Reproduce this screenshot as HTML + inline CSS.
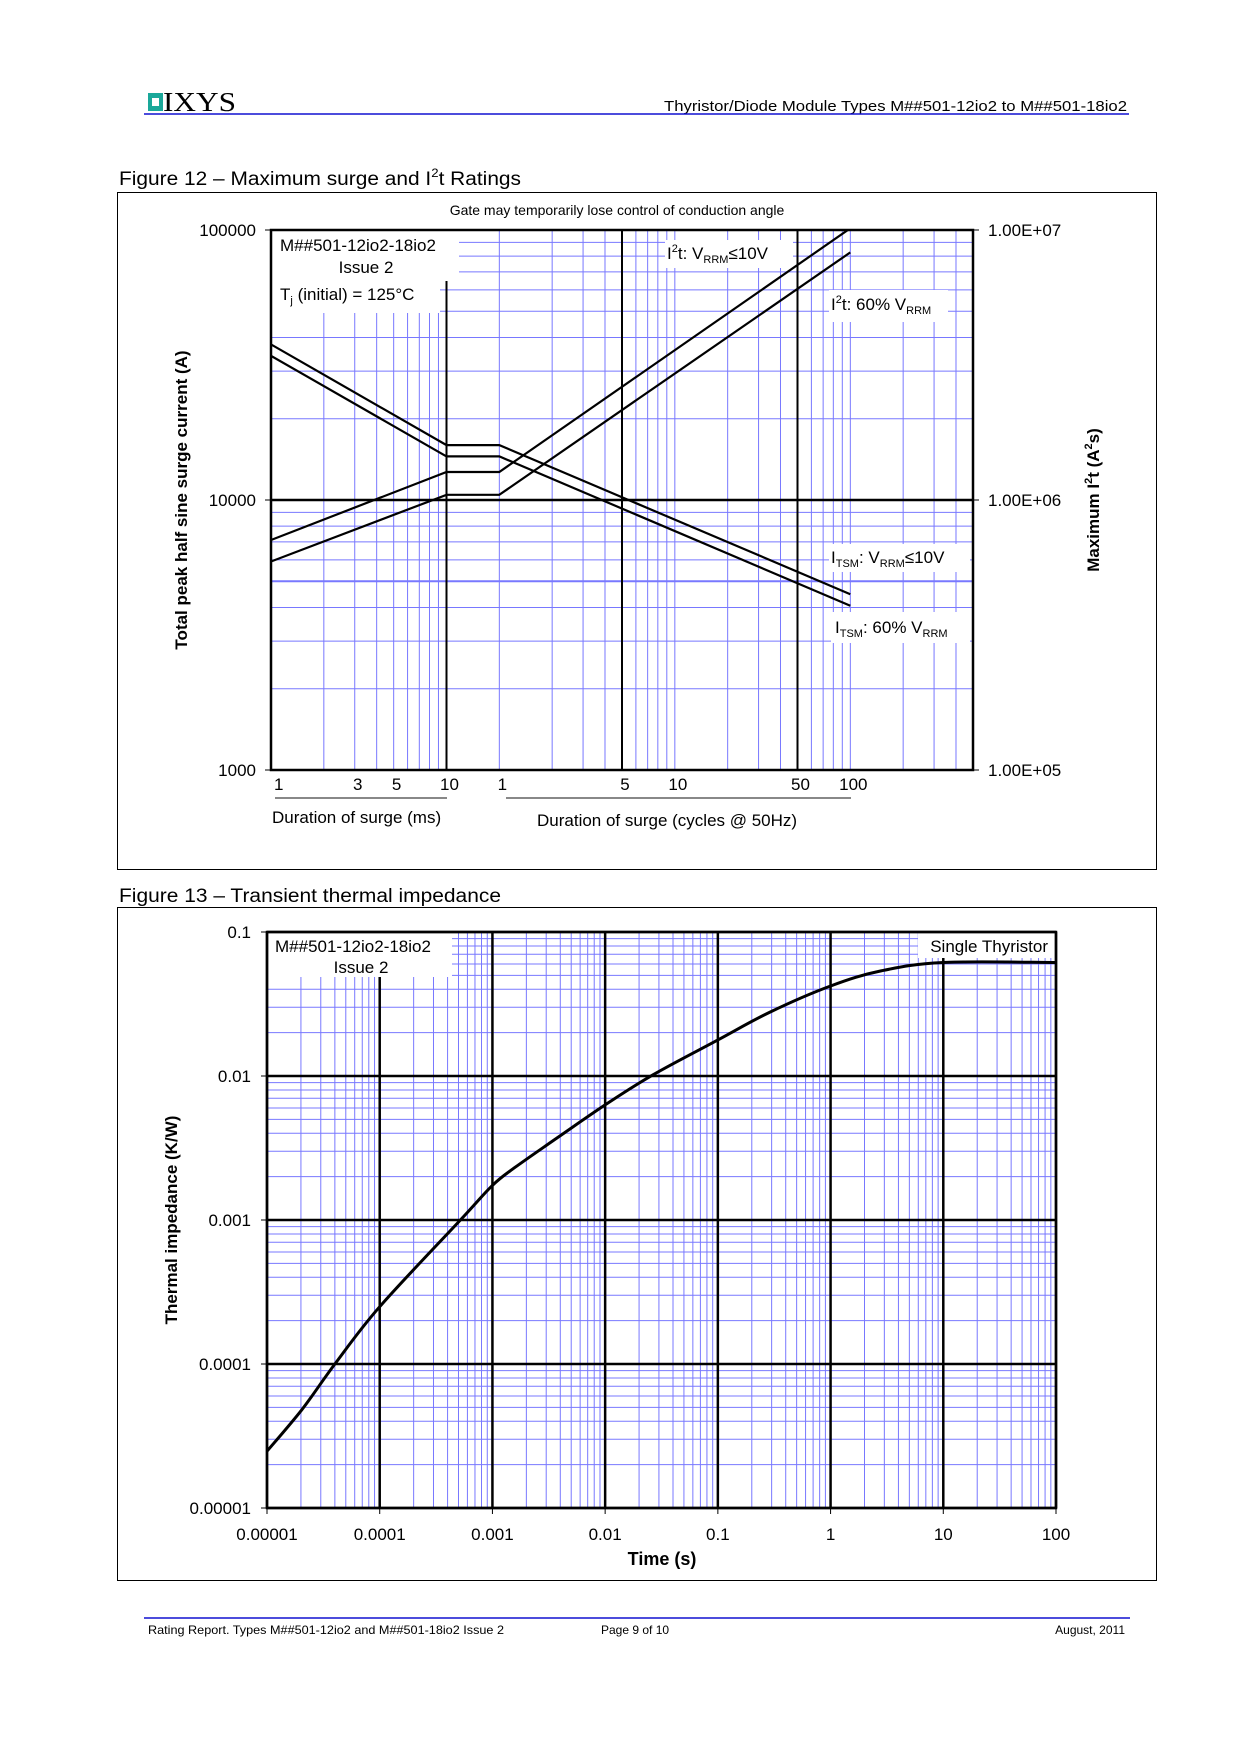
<!DOCTYPE html>
<html><head><meta charset="utf-8"><style>
html,body{margin:0;padding:0;background:#fff}
svg{display:block}
text{font-family:"Liberation Sans",sans-serif;fill:#000}
</style></head><body>
<svg id="pg" width="1240" height="1754" viewBox="0 0 1240 1754" xmlns="http://www.w3.org/2000/svg">
<rect x="0" y="0" width="1240" height="1754" fill="#fff"/>
<g>
 <rect x="148" y="93" width="15" height="18" fill="#1aa89a"/>
 <rect x="152" y="98" width="7" height="8" fill="#fff"/>
 <text x="163" y="111" font-family="Liberation Serif" style="font-family:'Liberation Serif',serif" font-size="27" textLength="73" lengthAdjust="spacingAndGlyphs">IXYS</text>
 <text x="1127" y="111" font-size="15" text-anchor="end" textLength="463" lengthAdjust="spacingAndGlyphs">Thyristor/Diode Module Types M##501-12io2 to M##501-18io2</text>
 <line x1="144" y1="114" x2="1129" y2="114" stroke="#1010d0" stroke-width="1.5"/>
</g>
<text x="119" y="185" font-size="19" textLength="402" lengthAdjust="spacingAndGlyphs">Figure 12 – Maximum surge and I<tspan font-size="12" dy="-8">2</tspan><tspan dy="8">t Ratings</tspan></text>
<rect x="117.5" y="192.5" width="1039" height="677" fill="none" stroke="#000" stroke-width="1"/>
<g id="fig12"></g>
<text x="119" y="902" font-size="19" textLength="382" lengthAdjust="spacingAndGlyphs">Figure 13 – Transient thermal impedance</text>
<rect x="117.5" y="907.5" width="1039" height="673" fill="none" stroke="#000" stroke-width="1"/>
<g id="fig13"></g>
<g>
 <line x1="144" y1="1618" x2="1130" y2="1618" stroke="#1010d0" stroke-width="1.5"/>
 <text x="148" y="1634" font-size="12" textLength="356" lengthAdjust="spacingAndGlyphs">Rating Report. Types M##501-12io2 and M##501-18io2 Issue 2</text>
 <text x="601" y="1634" font-size="12">Page 9 of 10</text>
 <text x="1125" y="1634" font-size="12" text-anchor="end">August, 2011</text>
</g>
</svg>
<script>
// ---- Figure 12 data ----
const surgeMs = [1, 10, 20, 2000];
const itsmLowV = [37700, 15970, 15970, 4477];
const itsm60V = [34200, 14500, 14500, 4060];
const i2tLowV = [711000, 1270000, 1270000, 10150000];
const i2t60V = [592000, 1045000, 1045000, 8260000];
const surgeTickMs = [1, 3, 5, 10, 20, 100, 200, 1000, 2000];
const surgeTickLabels = ['1', '3', '5', '10', '1', '5', '10', '50', '100'];
const leftTicks = [1000, 10000, 100000];
const leftTickLabels = ['1000', '10000', '100000'];
const rightTicks = [100000, 1000000, 10000000];
const rightTickLabels = ['1.00E+05', '1.00E+06', '1.00E+07'];
// ---- Figure 13 data ----
const zthT = [1e-5, 2.03e-5, 4e-5, 1e-4, 5.2e-4, 1e-3, 1.6e-3, 3.63e-3, 1e-2, 2.66e-2, 0.1, 0.29, 1, 2.8, 10, 100];
const zthZ = [2.48e-5, 4.8e-5, 1e-4, 2.5e-4, 1e-3, 1.74e-3, 2.33e-3, 3.65e-3, 6.3e-3, 1.02e-2, 1.78e-2, 2.78e-2, 4.22e-2, 5.37e-2, 6.14e-2, 6.14e-2];
const zTicks = [1e-5, 1e-4, 1e-3, 1e-2, 1e-1];
const zTickLabels = ['0.00001', '0.0001', '0.001', '0.01', '0.1'];
const tTicks = [1e-5, 1e-4, 1e-3, 1e-2, 1e-1, 1, 10, 100];
const tTickLabels = ['0.00001', '0.0001', '0.001', '0.01', '0.1', '1', '10', '100'];

const NS = 'http://www.w3.org/2000/svg';
function mk(parent, tag, attrs, name) {
  const el = document.createElementNS(NS, tag);
  for (const k in attrs) el.setAttribute(k, attrs[k]);
  
  
  parent.appendChild(el);
  return el;
}
function ln(p, x1, y1, x2, y2, c, w, name) {
  return mk(p, 'line', {x1: x1, y1: y1, x2: x2, y2: y2, stroke: c, 'stroke-width': w}, name);
}
function tx(p, x, y, s, size, anchor, name) {
  const t = mk(p, 'text', {x: x, y: y, 'font-size': size, 'text-anchor': anchor || 'start'}, name);
  t.textContent = s;
  return t;
}
const L = Math.log10;
const BLUE = '#7878ff';

// ===== Figure 12 =====
const g12 = document.getElementById('fig12');
const P1 = {l: 271, r: 973, t: 230, b: 770};
const x12 = ms => P1.l + L(ms) * 175.5;
const yL = v => P1.b - (L(v) - 3) * 270;
const yR = v => P1.b - (L(v) - 5) * 270;

const vgrid = [];
[2,3,4,5,6,7,8,9].forEach(m => vgrid.push(m));
[20,40,60,80,100,120,140,160,180,200,400,600,800,1000,1200,1400,1600,1800,2000,4000,6000,8000,10000].forEach(m => vgrid.push(m));
vgrid.forEach(m => ln(g12, x12(m), P1.t, x12(m), P1.b, BLUE, 1, 'surge-x-gridline'));
[2,3,4,5,6,7,8,9].forEach(m => {
  [1000, 10000].forEach(d => ln(g12, P1.l, yL(m*d), P1.r, yL(m*d), BLUE, 1, 'surge-y-gridline'));
});
ln(g12, P1.l, yL(5000), P1.r, yL(5000), BLUE, 2, 'surge-y-gridline');
[10, 100, 1000].forEach(m => ln(g12, x12(m), P1.t, x12(m), P1.b, '#000', 2, 'surge-major-x-gridline'));
ln(g12, P1.l, yL(10000), P1.r, yL(10000), '#000', 2.5, 'surge-major-y-gridline');

[[271,230,459,281],[271,281,440,313],[665,240,793,268],[829,290,948,322],[829,544,970,572],[831,612,970,643]].forEach(b => {
  mk(g12, 'rect', {x: b[0], y: b[1], width: b[2]-b[0], height: b[3]-b[1], fill: '#fff'}, 'label-background');
});
ln(g12, x12(10), 281, x12(10), P1.b, '#000', 2, 'surge-major-x-gridline');

const clip = mk(g12, 'clipPath', {id: 'c12'}, 'plot-clip');
mk(clip, 'rect', {x: P1.l, y: P1.t, width: P1.r - P1.l, height: P1.b - P1.t}, 'plot-clip-rect');
function series(vals, yf, name) {
  const pts = surgeMs.map((m, i) => x12(m).toFixed(1) + ',' + yf(vals[i]).toFixed(1)).join(' ');
  mk(g12, 'polyline', {points: pts, fill: 'none', stroke: '#000', 'stroke-width': 2.2, 'clip-path': 'url(#c12)'}, name);
}
series(itsmLowV, yL, 'itsm-vrrm-10v-line');
series(itsm60V, yL, 'itsm-60pct-vrrm-line');
series(i2tLowV, yR, 'i2t-vrrm-10v-line');
series(i2t60V, yR, 'i2t-60pct-vrrm-line');

mk(g12, 'rect', {x: P1.l, y: P1.t, width: P1.r - P1.l, height: P1.b - P1.t, fill: 'none', stroke: '#000', 'stroke-width': 2.5}, 'surge-plot-border');

leftTicks.forEach((v, i) => {
  ln(g12, P1.l - 6, yL(v), P1.l, yL(v), '#000', 1, 'left-y-tick');
  tx(g12, 256, yL(v) + 6, leftTickLabels[i], 17, 'end', 'left-y-tick-label');
});
rightTicks.forEach((v, i) => {
  ln(g12, P1.r, yR(v), P1.r + 6, yR(v), '#000', 1, 'right-y-tick');
  tx(g12, 988, yR(v) + 6, rightTickLabels[i], 17, 'start', 'right-y-tick-label');
});
surgeTickMs.forEach((m, i) => {
  tx(g12, x12(m) + 3, 790, surgeTickLabels[i], 17, i === 0 ? 'start' : 'middle', 'surge-x-tick-label');
});
ln(g12, 275, 798, 447, 798, '#888', 2, 'ms-axis-bracket');
ln(g12, 506, 798, 851, 798, '#888', 2, 'cycles-axis-bracket');
tx(g12, 272, 823, 'Duration of surge (ms)', 17, 'start', 'x-axis-title-ms');
tx(g12, 537, 826, 'Duration of surge (cycles @ 50Hz)', 17, 'start', 'x-axis-title-cycles');
tx(g12, 617, 215, 'Gate may temporarily lose control of conduction angle', 14, 'middle', 'gate-note');

let t;
t = tx(g12, 0, 0, 'Total peak half sine surge current (A)', 17, 'middle', 'left-y-axis-title');
t.setAttribute('transform', 'translate(187,500) rotate(-90)');
t.setAttribute('font-weight', 'bold');
t = tx(g12, 0, 0, '', 17, 'middle', 'right-y-axis-title');
t.setAttribute('transform', 'translate(1099,500) rotate(-90)');
t.setAttribute('font-weight', 'bold');
t.innerHTML = 'Maximum I<tspan font-size="11" dy="-7">2</tspan><tspan dy="7">t (A</tspan><tspan font-size="11" dy="-7">2</tspan><tspan dy="7">s)</tspan>';

tx(g12, 280, 251, 'M##501-12io2-18io2', 17, 'start', 'device-label');
tx(g12, 366, 273, 'Issue 2', 17, 'middle', 'issue-label');
t = tx(g12, 280, 300, '', 17, 'start', 'tj-label');
t.innerHTML = 'T<tspan font-size="11" dy="4">j</tspan><tspan dy="-4"> (initial) = 125°C</tspan>';
t = tx(g12, 667, 259, '', 17, 'start', 'i2t-vrrm-10v-label');
t.innerHTML = 'I<tspan font-size="11" dy="-7">2</tspan><tspan dy="7">t: V</tspan><tspan font-size="11" dy="4">RRM</tspan><tspan dy="-4">≤10V</tspan>';
t = tx(g12, 831, 310, '', 17, 'start', 'i2t-60pct-label');
t.innerHTML = 'I<tspan font-size="11" dy="-7">2</tspan><tspan dy="7">t: 60% V</tspan><tspan font-size="11" dy="4">RRM</tspan>';
t = tx(g12, 831, 563, '', 17, 'start', 'itsm-vrrm-10v-label');
t.innerHTML = 'I<tspan font-size="11" dy="4">TSM</tspan><tspan dy="-4">: V</tspan><tspan font-size="11" dy="4">RRM</tspan><tspan dy="-4">≤10V</tspan>';
t = tx(g12, 835, 633, '', 17, 'start', 'itsm-60pct-label');
t.innerHTML = 'I<tspan font-size="11" dy="4">TSM</tspan><tspan dy="-4">: 60% V</tspan><tspan font-size="11" dy="4">RRM</tspan>';

// ===== Figure 13 =====
const g13 = document.getElementById('fig13');
const P2 = {l: 267, r: 1056, t: 932, b: 1508};
const x13 = v => P2.l + (L(v) + 5) * (P2.r - P2.l) / 7;
const y13 = v => P2.b - (L(v) + 5) * (P2.b - P2.t) / 4;
for (let d = -5; d < 2; d++) for (let m = 2; m <= 9; m++) {
  const v = m * Math.pow(10, d);
  ln(g13, x13(v), P2.t, x13(v), P2.b, BLUE, 1, 'zth-x-gridline');
}
for (let d = -5; d < -1; d++) for (let m = 2; m <= 9; m++) {
  const v = m * Math.pow(10, d);
  ln(g13, P2.l, y13(v), P2.r, y13(v), BLUE, 1, 'zth-y-gridline');
}
mk(g13, 'rect', {x: 268, y: 933, width: 184, height: 44, fill: '#fff'}, 'label-background');
mk(g13, 'rect', {x: 918, y: 933, width: 137, height: 25, fill: '#fff'}, 'label-background');
tTicks.forEach(v => ln(g13, x13(v), v === 1e-4 ? 977 : (v === 10 ? 958 : P2.t), x13(v), P2.b, '#000', 2.5, 'zth-major-x-gridline'));
zTicks.forEach(v => ln(g13, P2.l, y13(v), P2.r, y13(v), '#000', 2.5, 'zth-major-y-gridline'));
mk(g13, 'rect', {x: P2.l, y: P2.t, width: P2.r - P2.l, height: P2.b - P2.t, fill: 'none', stroke: '#000', 'stroke-width': 2.5}, 'zth-plot-border');
// smooth curve (Catmull-Rom through data points)
const zp = zthT.map((v, i) => [x13(v), y13(zthZ[i])]);
let d = 'M' + zp[0][0].toFixed(1) + ',' + zp[0][1].toFixed(1);
for (let i = 0; i < zp.length - 1; i++) {
  const p0 = zp[Math.max(0, i - 1)], p1 = zp[i], p2 = zp[i + 1], p3 = zp[Math.min(zp.length - 1, i + 2)];
  const c1x = p1[0] + (p2[0] - p0[0]) / 6, c1y = p1[1] + (p2[1] - p0[1]) / 6;
  const c2x = p2[0] - (p3[0] - p1[0]) / 6, c2y = p2[1] - (p3[1] - p1[1]) / 6;
  d += ' C' + c1x.toFixed(1) + ',' + c1y.toFixed(1) + ' ' + c2x.toFixed(1) + ',' + c2y.toFixed(1) + ' ' + p2[0].toFixed(1) + ',' + p2[1].toFixed(1);
}
mk(g13, 'path', {d: d, fill: 'none', stroke: '#000', 'stroke-width': 3, 'stroke-linejoin': 'round'}, 'zth-curve');
zTicks.forEach((v, i) => {
  ln(g13, P2.l - 6, y13(v), P2.l, y13(v), '#000', 1, 'zth-y-tick');
  tx(g13, 251, y13(v) + 6, zTickLabels[i], 17, 'end', 'zth-y-tick-label');
});
tTicks.forEach((v, i) => {
  ln(g13, x13(v), P2.b, x13(v), P2.b + 6, '#000', 1, 'zth-x-tick');
  tx(g13, x13(v), 1540, tTickLabels[i], 17, 'middle', 'zth-x-tick-label');
});
t = tx(g13, 662, 1565, 'Time (s)', 18, 'middle', 'zth-x-axis-title');
t.setAttribute('font-weight', 'bold');
t = tx(g13, 0, 0, 'Thermal impedance (K/W)', 17, 'middle', 'zth-y-axis-title');
t.setAttribute('transform', 'translate(177,1220) rotate(-90)');
t.setAttribute('font-weight', 'bold');
tx(g13, 275, 952, 'M##501-12io2-18io2', 17, 'start', 'zth-device-label');
tx(g13, 361, 973, 'Issue 2', 17, 'middle', 'zth-issue-label');
tx(g13, 1048, 952, 'Single Thyristor', 17, 'end', 'single-thyristor-label');
</script>
</body></html>
